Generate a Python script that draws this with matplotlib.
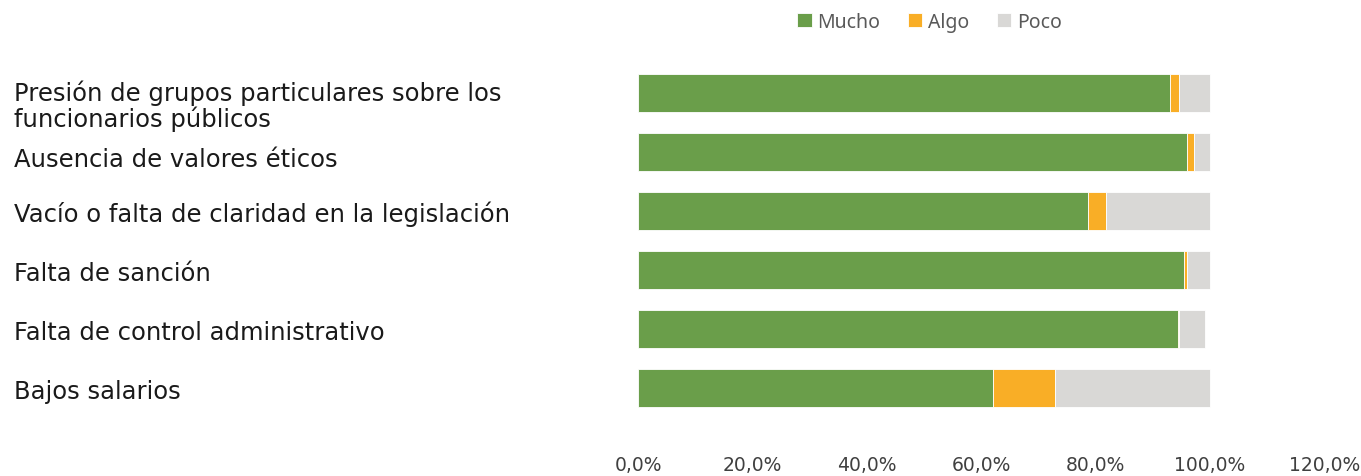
import matplotlib.pyplot as plt
import matplotlib.transforms as mtransforms
from matplotlib.ticker import FuncFormatter

categories = [
    "Presión de grupos particulares sobre los\nfuncionarios públicos",
    "Ausencia de valores éticos",
    "Vacío o falta de claridad en la legislación",
    "Falta de sanción",
    "Falta de control administrativo",
    "Bajos salarios",
]
mucho = [93.0, 96.0, 78.7, 95.5, 94.4, 62.1]
algo = [1.6, 1.2, 3.1, 0.5, 0.2, 10.8]
poco = [5.4, 2.8, 18.2, 4.0, 4.5, 27.1]
ticks = [0, 20, 40, 60, 80, 100, 120]

colors = {"Mucho": "#6A9E4A", "Algo": "#F9AE26", "Poco": "#D9D8D6"}


def main():
    fig = plt.figure(figsize=(13.61, 4.77), dpi=100)
    ax = fig.add_axes([0.4688, 0.1226, 0.5043, 0.7422])

    y = list(range(len(categories)))
    left = [0] * len(categories)
    for name, vals in [("Mucho", mucho), ("Algo", algo), ("Poco", poco)]:
        ax.barh(y, vals, left=left, height=0.63, color=colors[name],
                edgecolor="white", linewidth=0.6, label=name)
        left = [a + b for a, b in zip(left, vals)]

    ax.set_ylim(len(categories) - 0.5, -0.5)
    ax.set_xlim(0, 120)
    ax.set_xticks(ticks)
    ax.xaxis.set_major_formatter(FuncFormatter(lambda v, p: f"{v:.1f}%".replace(".", ",")))
    ax.tick_params(axis="x", length=0, pad=27, labelsize=13.5, labelcolor="#404040")
    for t in ax.get_xticklabels():
        t.set_family("DejaVu Sans")

    ax.set_yticks(y)
    ax.set_yticklabels(categories, fontsize=17.5, color="#1a1a1a", ha="left",
                       family="DejaVu Sans", linespacing=1.0)
    ax.tick_params(axis="y", length=0, pad=449)
    # first two labels sit a bit lower in the original
    for lab, dy in zip(ax.get_yticklabels()[:2], [10, 5]):
        off = mtransforms.ScaledTranslation(0, -dy / 100, fig.dpi_scale_trans)
        lab.set_transform(lab.get_transform() + off)

    for s in ax.spines.values():
        s.set_visible(False)

    fig.legend(loc="center", bbox_to_anchor=(0.683, 0.952), ncol=3, frameon=False,
               prop={"family": "Noto Sans", "size": 14}, handlelength=0.75,
               handleheight=0.75, handletextpad=0.3, columnspacing=1.4,
               labelcolor="#595959")

    fig.savefig("out.png", dpi=100)


if __name__ == "__main__":
    main()
